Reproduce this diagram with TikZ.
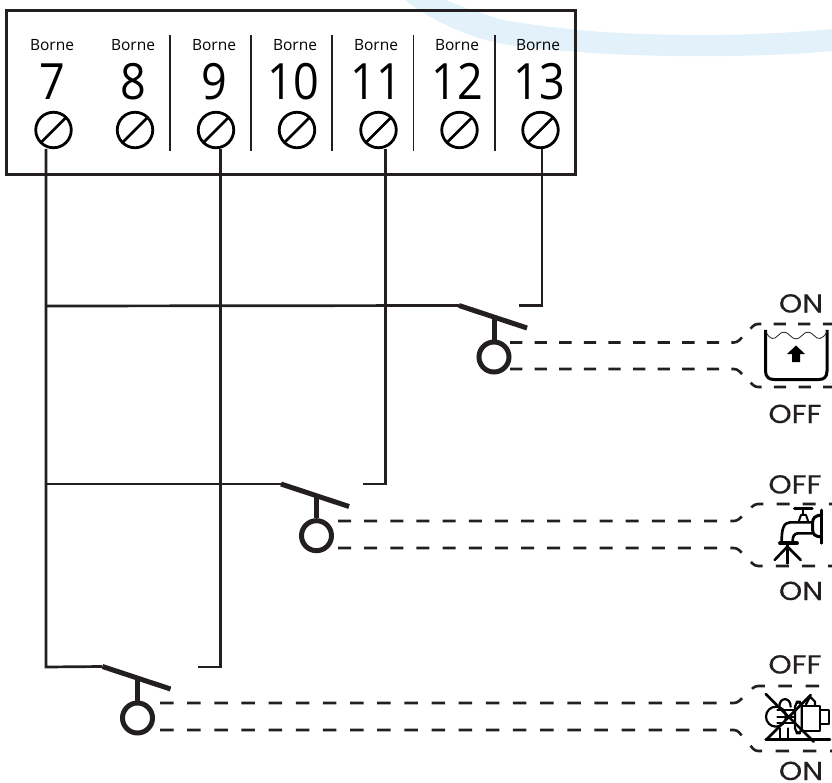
\documentclass[tikz,border=0pt]{standalone}
\usepackage{fontspec}
\setmainfont{Open Sans}
\newfontfamily\labelfont[FakeStretch=1.14,FakeBold=0.25]{Poppins}
\newfontfamily\numfont[FakeStretch=0.9]{Open Sans}
\definecolor{ink}{HTML}{231F20}
\definecolor{swoosh}{HTML}{E3F2FA}
\tikzset{
  x=1pt,y=-1pt,
  wire/.style={draw=ink,line width=2.7pt,line join=miter},
  framebox/.style={draw=ink,line width=3pt},
  sep/.style={draw=ink,line width=1.4pt},
  screw/.style={circle,draw=black,line width=2.8pt,minimum size=35.5pt,inner sep=0pt},
  slot/.style={draw=black,line width=2.6pt},
  borne/.style={font=\fontsize{15.5pt}{15.5pt}\selectfont,text=black,anchor=base,inner sep=0pt},
  num/.style={font=\numfont\fontsize{50pt}{50pt}\selectfont,text=black,anchor=base,inner sep=0pt},
  state/.style={font=\labelfont\fontsize{26pt}{26pt}\selectfont,text=ink,anchor=base,inner sep=0pt},
  lever/.style={draw=ink,line width=5pt},
  stem/.style={draw=ink,line width=5pt},
  float/.style={circle,draw=ink,line width=5pt,minimum size=30pt,inner sep=0pt},
  linkA/.style={draw=ink,line width=2.6pt,dash pattern=on 12.3pt off 12.3pt,rounded corners=3pt},
  linkB/.style={draw=ink,line width=2.6pt,dash pattern=on 13pt off 13.15pt,rounded corners=3pt},
  linkC/.style={draw=ink,line width=2.6pt,dash pattern=on 13.5pt off 13.65pt,rounded corners=3pt},
  iconb/.style={draw=black,line width=2.6pt,line cap=round,line join=round},
}
\begin{document}
\begin{tikzpicture}
\useasboundingbox (0,0) rectangle (832,783);
% background swoosh
\fill[swoosh] (405,0) .. controls (430,20) and (470,38) .. (503,44)
  .. controls (530,49) and (600,55) .. (673,56)
  .. controls (730,57) and (790,55) .. (832,51) -- (832,29)
  .. controls (790,33) and (730,36) .. (673,34.6)
  .. controls (620,34) and (570,31) .. (503,20)
  .. controls (485,15) and (465,8) .. (446,0) -- cycle;
% terminal block
\node[framebox,minimum width=569pt,minimum height=164pt,inner sep=0pt,anchor=center] (block) at (290.5,93) {};
\foreach \n/\xb/\xs/\xd in {7/52/53.5/52,8/133/135/133,9/214/216/214,10/295/297/293,11/376/378.5/376,12/457/459.5/457,13/538/540.5/539}{
  \node[borne] (b\n) at (\xb,51) {Borne};
  \node[num] (n\n) at (\xd,100) {\n};
  \node[screw] (s\n) at (\xs,130) {};
  \draw[slot] (\xs-12,130+12) -- (\xs+12,130-12);
}
\foreach \i/\xx in {1/170,2/251,3/332,4/413.5,5/495}{
  \coordinate (sa\i) at (\xx,35);
  \coordinate (sb\i) at (\xx,151);
  \draw[sep] (sa\i) -- (sb\i);
}
% switches
\foreach \k/\lx/\ly/\cx/\cy in {A/459/305.5/494/357,B/281/484/316.5/535.7,C/102.5/666.5/137.5/718}{
  \coordinate (l\k) at (\lx,\ly);
  \coordinate (e\k) at (\lx+68,\ly+22.5);
  \node[float] (f\k) at (\cx,\cy) {};
  \coordinate (t\k) at (\cx,\ly+11.5);
  \draw[stem] (t\k) -- (f\k.north);
  \draw[lever] (l\k) -- (e\k);
}
% wires
\coordinate (j7a) at (46,149);
\coordinate (jA) at (46,306);
\coordinate (jB) at (46,484);
\coordinate (jC) at (46,667);
\draw[wire] (j7a) -- (jC) -- (lC);
\draw[wire] (jA) -- (lA);
\draw[wire] (jB) -- (lB);
\coordinate (w9a) at (220.5,149);\coordinate (w9b) at (220.5,667);\coordinate (w9c) at (198,667);
\draw[wire] (w9a) -- (w9b) -- (w9c);
\coordinate (w11a) at (385.5,149);\coordinate (w11b) at (385.5,484);\coordinate (w11c) at (363,484);
\draw[wire] (w11a) -- (w11b) -- (w11c);
\coordinate (w13a) at (542,149);\coordinate (w13b) at (542,305.5);\coordinate (w13c) at (519,305.5);
\draw[wire] (w13a) -- (w13b) -- (w13c);
% dashed links
\draw[linkA] (510,342.5) -- (737,342.5) -- (755,324) -- (832,324);
\draw[linkA] (510,369) -- (737,369) -- (755,387) -- (832,387);
\draw[linkB] (338,521) -- (737,521) -- (755,504) -- (832,504);
\draw[linkB] (338,548) -- (737,548) -- (755,566) -- (832,566);
\draw[linkC] (160,703) -- (737,703) -- (755,686) -- (832,686);
\draw[linkC] (160,730) -- (737,730) -- (755,751) -- (832,751);
% state labels
\node[state] (on1) at (801,312.5) {ON};
\node[state] (off1) at (795,423) {OFF};
\node[state] (off2) at (795,493.5) {OFF};
\node[state] (on2) at (801,600) {ON};
\node[state] (off3) at (795,673.5) {OFF};
\node[state] (on3) at (801,780) {ON};
% tank icon
\draw[draw=black,line width=3pt,line join=round] (765.5,330) -- (765.5,371) .. controls (765.5,377) and (769,379.5) .. (774,379.5) -- (819,379.5) .. controls (824,379.5) and (827,377) .. (827,371) -- (827,330);
\draw[draw=ink,line width=.8pt] (766,332) .. controls (770,340) and (774,340) .. (778,335.5) .. controls (782,331) and (786,331) .. (790,335.5) .. controls (794,340) and (798,340) .. (802,335.5) .. controls (806,331) and (810,331) .. (814,335.5) .. controls (818,340) and (822,340) .. (827,332);
\fill[black] (796,345.5) -- (805,354) -- (800,354) -- (800,362) -- (792,362) -- (792,354) -- (787,354) -- cycle;
% tap icon (origin 700,465, scale 1/3)
\begin{scope}[shift={(700,465)},x=0.3333pt,y=-0.3333pt]
\draw[iconb] (365,135) -- (365,235);
\draw[iconb,line width=3pt] (363,150) .. controls (345,152) and (338,160) .. (338,172) -- (338,195) .. controls (338,208) and (345,214) .. (363,216);
\draw[iconb] (335,172) -- (270,172) .. controls (250,172) and (245,195) .. (245,228);
\draw[iconb] (335,205) -- (295,205) .. controls (282,205) and (278,215) .. (278,228);
\draw[iconb,line width=3.5pt] (284,131) -- (336,131);
\draw[iconb,line width=2pt] (310,135) -- (310,148);
\draw[iconb,line width=2pt] (296,170) -- (303,150) -- (318,150) -- (325,170);
\draw[iconb,line width=3.8pt] (240,235) -- (291,235);
\draw[iconb] (262,240) -- (262,295);
\draw[iconb] (262,245) -- (224,285);
\draw[iconb] (262,245) -- (302,285);
\end{scope}
% pump icon (origin 700,645, scale 1/3)
\begin{scope}[shift={(700,645)},x=0.3333pt,y=-0.3333pt]
\draw[iconb,line width=2.2pt] (228,215) circle[x radius=30,y radius=30];
\draw[iconb,line width=2.2pt] (238,185) .. controls (238,155) and (272,155) .. (272,185);
\draw[iconb,line width=2.2pt] (232,195) -- (285,195);
\draw[iconb,line width=2.2pt] (232,215) -- (285,215);
\draw[iconb,line width=2.2pt] (232,235) -- (285,235);
\draw[iconb,line width=2.2pt] (240,250) -- (240,283);
\draw[iconb,line width=2.2pt] (265,250) -- (265,283);
\draw[iconb,line width=2.2pt,rounded corners=5pt] (285,170) rectangle (305,265);
\draw[iconb,line width=2.2pt] (305,182) -- (360,182) -- (360,258) -- (305,258);
\draw[iconb,line width=2.2pt] (360,196) -- (388,196) -- (388,238) -- (360,238);
\draw[iconb,line width=2.2pt] (318,178) -- (330,155) -- (345,170) -- (345,180);
\draw[iconb,line width=2.4pt] (197,283) -- (390,283);
\draw[iconb] (197,147) -- (341,290);
\draw[iconb] (332,150) -- (200,283);
\end{scope}
\end{tikzpicture}
\end{document}
